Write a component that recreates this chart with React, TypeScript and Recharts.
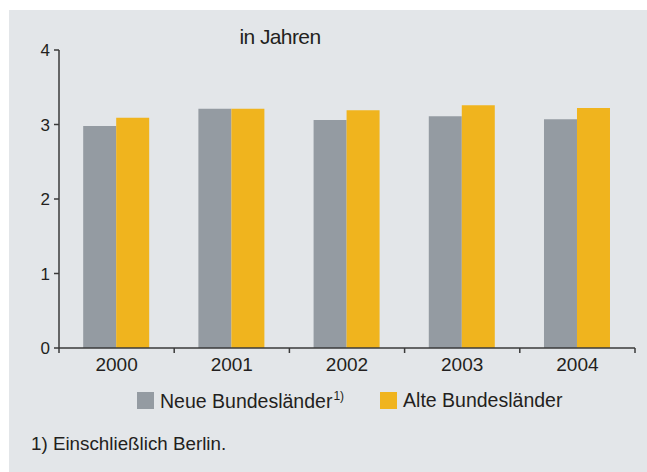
import React from 'react';
import { BarChart, Bar, XAxis, YAxis, Legend } from 'recharts';

const years = ['2000', '2001', '2002', '2003', '2004'];
const neueBundeslaender = [2.98, 3.21, 3.06, 3.11, 3.07];
const alteBundeslaender = [3.09, 3.21, 3.19, 3.26, 3.22];
const yTicks = [0, 1, 2, 3, 4];

const seriesNames = ['Neue Bundesländer', 'Alte Bundesländer'];
const seriesMarks = ['1)', ''];
const seriesColors = ['#949ba2', '#f0b41e'];

const title = 'in Jahren';
const footnote = '1) Einschließlich Berlin.';

const data = years.map((year, i) => ({
  year,
  neue: neueBundeslaender[i],
  alte: alteBundeslaender[i],
}));

const FONT = '"Liberation Sans", Arial, sans-serif';
const TEXT = '#231f20';
const AXIS = '#3a3a3a';
const TICK_SIZE = 5;
const TICK_MARGIN = 5;

// category ticks sit between the bars, so draw them at the band edges
const YearTick = (props: any) => {
  const { x, y, payload, index } = props;
  const half = payload.offset || 0;
  const axisY = y - TICK_SIZE - TICK_MARGIN;
  return (
    <g>
      <line x1={x - half} x2={x - half} y1={axisY} y2={axisY + TICK_SIZE} stroke={AXIS} strokeWidth={1.5} />
      {index === years.length - 1 && (
        <line x1={x + half} x2={x + half} y1={axisY} y2={axisY + TICK_SIZE} stroke={AXIS} strokeWidth={1.5} />
      )}
      <text x={x} y={y} dy="0.71em" textAnchor="middle" fill={TEXT} fontSize={19} fontFamily={FONT}>
        {payload.value}
      </text>
    </g>
  );
};

const LegendContent = () => (
  <div style={{ display: 'flex', alignItems: 'center', fontFamily: FONT, fontSize: 19.5, color: TEXT }}>
    {seriesNames.map((name, i) => (
      <div key={name} style={{ display: 'flex', alignItems: 'center', marginRight: 36 }}>
        <span style={{ width: 17, height: 17, background: seriesColors[i], display: 'inline-block', marginRight: 6 }} />
        <span>
          {name}
          {seriesMarks[i] && <sup style={{ fontSize: 12, marginLeft: 1 }}>{seriesMarks[i]}</sup>}
        </span>
      </div>
    ))}
  </div>
);

export default function App() {
  return (
    <div style={{ position: 'fixed', top: 10, left: 9, right: 0, bottom: 0, background: '#e3e6e9', overflow: 'hidden' }}>
      <div
        style={{
          position: 'absolute',
          left: 0,
          width: 542,
          top: 15,
          textAlign: 'center',
          fontFamily: FONT,
          fontSize: 21,
          letterSpacing: -0.6,
          color: TEXT,
        }}
      >
        {title}
      </div>
      <BarChart
        width={638}
        height={462}
        data={data}
        margin={{ top: 40, right: 12, left: 0, bottom: 94 }}
        barCategoryGap="21%"
        barGap={0}
      >
        <XAxis
          dataKey="year"
          height={30}
          axisLine={{ stroke: AXIS, strokeWidth: 1.5 }}
          tickLine={false}
          tickSize={TICK_SIZE}
          tickMargin={TICK_MARGIN}
          tick={<YearTick />}
          interval={0}
        />
        <YAxis
          width={50}
          domain={[0, 4]}
          ticks={yTicks}
          interval={0}
          axisLine={{ stroke: AXIS, strokeWidth: 1.5 }}
          tickLine={{ stroke: AXIS, strokeWidth: 1.5 }}
          tickSize={5}
          tickMargin={4}
          tick={{ fill: TEXT, fontSize: 17, fontFamily: FONT }}
        />
        <Legend
          layout="horizontal"
          verticalAlign="middle"
          align="center"
          wrapperStyle={{ top: 379, left: 128, width: 'auto' }}
          content={<LegendContent />}
        />
        <Bar dataKey="neue" name={seriesNames[0]} fill={seriesColors[0]} isAnimationActive={false} />
        <Bar dataKey="alte" name={seriesNames[1]} fill={seriesColors[1]} isAnimationActive={false} />
      </BarChart>
      <div
        style={{
          position: 'absolute',
          left: 22,
          top: 423,
          fontFamily: FONT,
          fontSize: 18.8,
          color: TEXT,
        }}
      >
        {footnote}
      </div>
    </div>
  );
}
